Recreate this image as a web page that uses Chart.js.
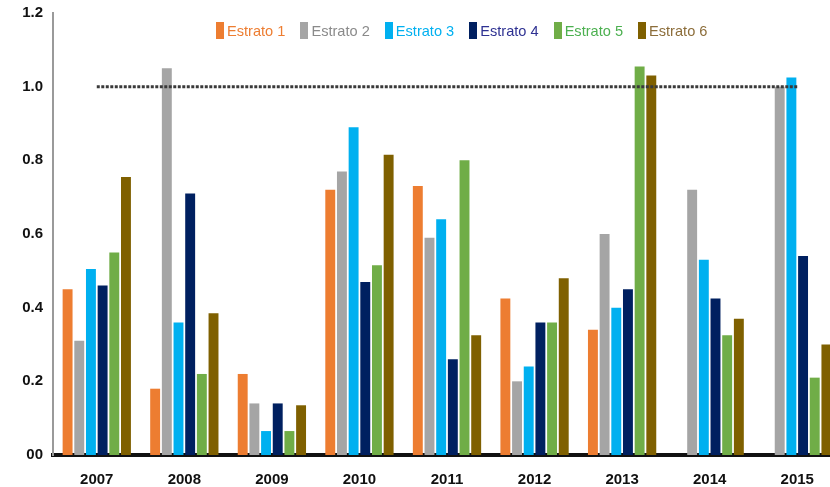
<!DOCTYPE html>
<html lang="es">
<head>
  <meta charset="UTF-8">
  <title>Estratos 2007-2015</title>
  <style>
    html, body { margin: 0; padding: 0; background: #fff; overflow: hidden; }
    #wrap { position: relative; width: 830px; height: 487px; overflow: hidden; }
    #chart { position: absolute; left: 0; top: 0; }
    #legend { position: absolute; left: 216px; top: 22px; display: flex; gap: 15px;
              font-family: "Liberation Sans", Arial, sans-serif; font-size: 14.6px; }
    #legend .item { display: flex; align-items: center; }
    #legend .box { width: 8px; height: 17px; margin-right: 3px; }
  </style>
  <script src="https://cdn.jsdelivr.net/npm/chart.js"></script>
</head>
<body>
  <div id="wrap">
    <canvas id="chart" width="841" height="487"></canvas>
    <div id="legend"></div>
  </div>
  <script>
    // Datos
    const anios = ['2007', '2008', '2009', '2010', '2011', '2012', '2013', '2014', '2015'];
    const estrato1 = [0.45, 0.18, 0.22, 0.72, 0.73, 0.425, 0.34, null, null];
    const estrato2 = [0.31, 1.05, 0.14, 0.77, 0.59, 0.20, 0.60, 0.72, 1.0];
    const estrato3 = [0.505, 0.36, 0.065, 0.89, 0.64, 0.24, 0.40, 0.53, 1.025];
    const estrato4 = [0.46, 0.71, 0.14, 0.47, 0.26, 0.36, 0.45, 0.425, 0.54];
    const estrato5 = [0.55, 0.22, 0.065, 0.515, 0.80, 0.36, 1.055, 0.325, 0.21];
    const estrato6 = [0.755, 0.385, 0.135, 0.815, 0.325, 0.48, 1.03, 0.37, 0.30];
    const referencia = [1.0, 1.0, 1.0, 1.0, 1.0, 1.0, 1.0, 1.0, 1.0];

    const nombres = ['Estrato 1', 'Estrato 2', 'Estrato 3', 'Estrato 4', 'Estrato 5', 'Estrato 6'];
    const colores = ['#ED7D31', '#A5A5A5', '#00B0F0', '#002060', '#70AD47', '#7F6000'];
    const coloresTexto = ['#ED7D31', '#8a8a8a', '#00B0F0', '#2e3192', '#4cb050', '#8c6d3a'];
    const series = [estrato1, estrato2, estrato3, estrato4, estrato5, estrato6];

    const datasets = series.map((vals, i) => ({
      type: 'bar',
      label: nombres[i],
      data: vals,
      backgroundColor: colores[i],
      borderWidth: 0,
      categoryPercentage: 0.8,
      barPercentage: 0.85,
      order: 1
    }));
    datasets.push({
      type: 'line',
      label: 'Referencia',
      data: referencia,
      borderColor: '#3a3a3a',
      borderWidth: 3,
      borderDash: [3, 1.5],
      pointRadius: 0,
      fill: false,
      order: 0
    });

    // Leyenda
    const legend = document.getElementById('legend');
    nombres.forEach((n, i) => {
      const it = document.createElement('div');
      it.className = 'item';
      it.innerHTML = '<span class="box" style="background:' + colores[i] + '"></span>' +
                     '<span style="color:' + coloresTexto[i] + '">' + n + '</span>';
      legend.appendChild(it);
    });

    const fuente = { family: '"Liberation Sans", Arial, sans-serif', size: 15, weight: 'bold' };

    new Chart(document.getElementById('chart').getContext('2d'), {
      data: { labels: anios, datasets: datasets },
      options: {
        responsive: false,
        animation: false,
        layout: { padding: { top: 13, right: 0, left: 0, bottom: 0 } },
        plugins: { legend: { display: false }, tooltip: { enabled: false } },
        scales: {
          x: {
            grid: { display: false, drawTicks: false },
            border: { display: true, color: '#111', width: 4 },
            ticks: { color: '#111', font: fuente, padding: 16, maxRotation: 0 },
            afterFit: s => { s.height = 32; }
          },
          y: {
            min: 0,
            max: 1.2,
            grid: { display: false, drawTicks: false },
            border: { display: true, color: '#9a9a9a', width: 2 },
            ticks: {
              stepSize: 0.2,
              color: '#111',
              font: fuente,
              padding: 10,
              callback: v => v === 0 ? '00' : v.toFixed(1)
            },
            afterFit: s => { s.width = 53; s.paddingTop = 0; s.paddingBottom = 0; }
          }
        }
      }
    });
  </script>
</body>
</html>
